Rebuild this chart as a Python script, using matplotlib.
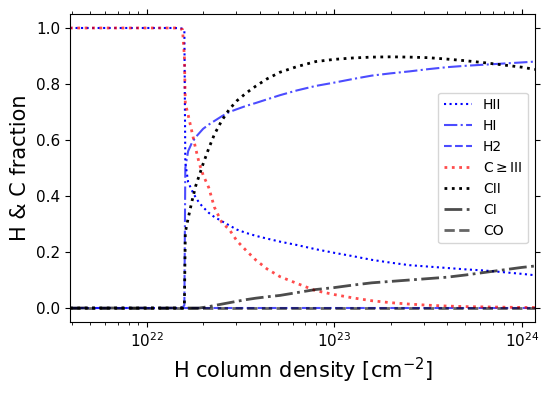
import matplotlib
matplotlib.use('Agg')
import matplotlib.pyplot as plt
import numpy as np

# log10 of H column density [cm^-2]
log_nh = [21.59, 21.9, 22.15, 22.19, 22.2, 22.205, 22.22, 22.24, 22.26, 22.28,
          22.30, 22.33, 22.36, 22.40, 22.44, 22.48, 22.53, 22.58, 22.64, 22.71,
          22.80, 22.90, 23.0, 23.1, 23.2, 23.3, 23.4, 23.5, 23.6, 23.7,
          23.8, 23.9, 24.0, 24.07]

f_hii = [1.0, 1.0, 1.0, 0.998, 0.99, 0.52, 0.45, 0.42, 0.395, 0.375,
         0.36, 0.34, 0.325, 0.31, 0.295, 0.28, 0.268, 0.258, 0.248, 0.237,
         0.225, 0.21, 0.197, 0.185, 0.172, 0.162, 0.153, 0.148, 0.143, 0.138,
         0.134, 0.128, 0.122, 0.117]

f_hi = [0.0, 0.0, 0.0, 0.002, 0.01, 0.50, 0.56, 0.59, 0.61, 0.625,
        0.64, 0.655, 0.668, 0.685, 0.70, 0.71, 0.722, 0.732, 0.745, 0.76,
        0.777, 0.793, 0.805, 0.818, 0.83, 0.838, 0.845, 0.853, 0.86, 0.865,
        0.869, 0.873, 0.877, 0.88]

f_h2 = [0.0] * len(log_nh)

f_c3 = [1.0, 1.0, 1.0, 0.995, 0.9, 0.73, 0.69, 0.63, 0.57, 0.515,
        0.475, 0.43, 0.36, 0.305, 0.28, 0.24, 0.205, 0.172, 0.14, 0.112,
        0.088, 0.062, 0.048, 0.036, 0.026, 0.019, 0.014, 0.010, 0.007, 0.005,
        0.004, 0.003, 0.002, 0.002]

f_cii = [0.0, 0.0, 0.0, 0.0, 0.01, 0.27, 0.32, 0.38, 0.435, 0.475,
         0.515, 0.57, 0.62, 0.67, 0.71, 0.74, 0.768, 0.792, 0.818, 0.842,
         0.862, 0.88, 0.888, 0.893, 0.896, 0.897, 0.896, 0.894, 0.889, 0.883,
         0.876, 0.868, 0.86, 0.852]

f_ci = [0.0, 0.0, 0.0, 0.0, 0.0, 0.0, 0.0, 0.0, 0.0, 0.0,
        0.002, 0.005, 0.009, 0.014, 0.019, 0.024, 0.03, 0.035, 0.04, 0.045,
        0.055, 0.066, 0.073, 0.082, 0.09, 0.095, 0.10, 0.105, 0.11, 0.118,
        0.127, 0.136, 0.145, 0.15]

f_co = [0.0] * len(log_nh)

nh = 10.0 ** np.array(log_nh)

fig = plt.figure(figsize=(5.49, 3.94), dpi=100)
ax = fig.add_axes([0.1275, 0.1827, 0.847, 0.7818])

ax.plot(nh, f_hii, ':', color='blue', lw=1.5, label='HII')
ax.plot(nh, f_hi, '-.', color='blue', alpha=0.7, lw=1.5, label='HI')
ax.plot(nh, f_h2, '--', color='blue', alpha=0.7, lw=1.5, label='H2')
ax.plot(nh, f_c3, ':', color='red', alpha=0.7, lw=2, label=r'C$\geq$III')
ax.plot(nh, f_cii, ':', color='black', lw=2, label='CII')
ax.plot(nh, f_ci, '-.', color='black', alpha=0.7, lw=2, label='CI')
ax.plot(nh, f_co, '--', color='black', alpha=0.6, lw=2, label='CO')

ax.set_xscale('log')
ax.set_xlim(10 ** 21.59, 10 ** 24.07)
ax.set_ylim(-0.05, 1.05)
ax.set_yticks([0.0, 0.2, 0.4, 0.6, 0.8, 1.0])
ax.tick_params(which='both', top=True, right=True, labelsize=11)

ax.set_xlabel(r'H column density [cm$^{-2}$]', fontsize=15)
ax.set_ylabel('H & C fraction', fontsize=15)
ax.legend(loc='center right', fontsize=10)

fig.savefig('out.png', dpi=100)
